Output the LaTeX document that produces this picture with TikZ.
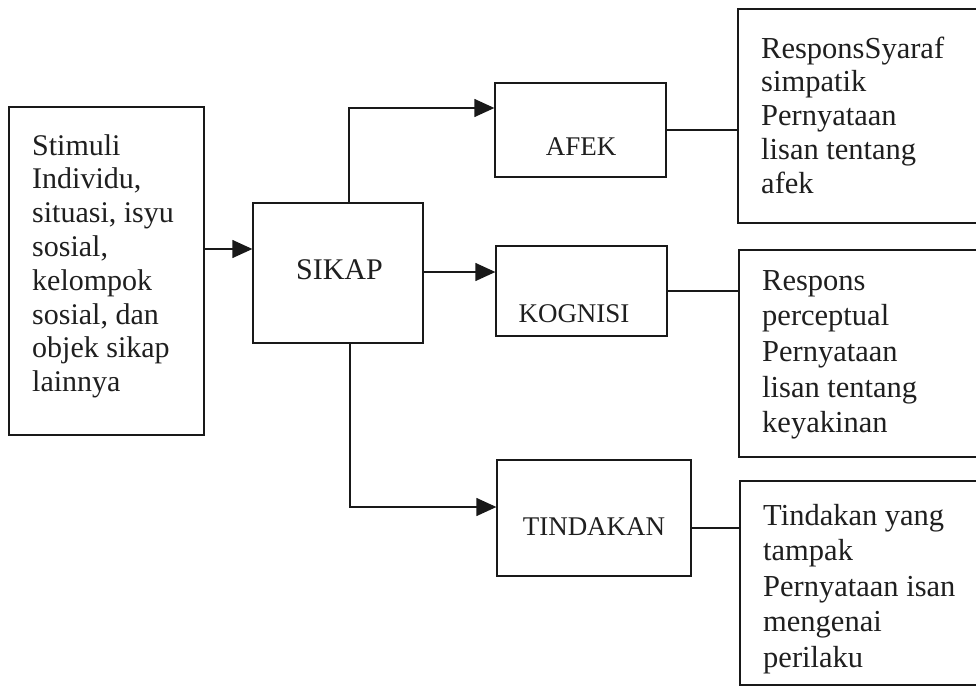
\documentclass[tikz,border=0pt]{standalone}
\usepackage{fontspec}
\setmainfont{Liberation Serif}
\usetikzlibrary{arrows.meta}
\begin{document}
\begin{tikzpicture}[x=1pt,y=-1pt,
  box/.style={draw=black!90, line width=1.3pt, inner sep=0pt},
  link/.style={draw=black!90, line width=1.3pt},
  arr/.style={link, -{Triangle[length=20pt,width=18pt]}},
  % multi-line text is placed by the baseline of its last line
  body/.style={inner sep=0pt, align=left, anchor=base west, text=black!88,
    font=\fontsize{30}{33.8}\selectfont},
  title/.style={inner sep=0pt, anchor=base, text=black!88,
    font=\fontsize{27}{30}\selectfont},
]
\useasboundingbox (0,0) rectangle (976,688);
\fill[white] (0,0) rectangle (976,688);
\clip (0,0) rectangle (976,688);

% boxes
\node[box, minimum width=195pt, minimum height=328pt] (stim) at (106.5,271) {};
\node[box, minimum width=170pt, minimum height=140pt] (sikap) at (338,273) {};
\node[box, minimum width=171pt, minimum height=94pt] (afek) at (580.5,130) {};
\node[box, minimum width=171pt, minimum height=90pt] (kog) at (581.5,291) {};
\node[box, minimum width=194pt, minimum height=116pt] (tind) at (594,518) {};
\node[box, minimum width=262pt, minimum height=214pt] (ra) at (869,116) {};
\node[box, minimum width=262pt, minimum height=207pt] (rb) at (870,353.5) {};
\node[box, minimum width=262pt, minimum height=204pt] (rc) at (871,583) {};

% texts
\node[body, font=\fontsize{30}{33.8}\selectfont] (stimtxt) at (32,391.6)
  {Stimuli\\Individu,\\situasi, isyu\\sosial,\\kelompok\\sosial, dan\\objek sikap\\lainnya};
\node[title, font=\fontsize{30}{32}\selectfont] (sikaptxt) at (339.5,279) {SIKAP};
\node[title] (afektxt) at (581,155) {AFEK};
\node[title] (kogtxt) at (574,322) {KOGNISI};
\node[title] (tindtxt) at (594,535) {TINDAKAN};
\node[body, font=\fontsize{30.5}{33.8}\selectfont] (ratxt) at (761,193.2)
  {ResponsSyaraf\\simpatik\\Pernyataan\\lisan tentang\\afek};
\node[body, font=\fontsize{30.5}{35.7}\selectfont] (rbtxt) at (762,432.8)
  {Respons\\perceptual\\Pernyataan\\lisan tentang\\keyakinan};
\node[body, font=\fontsize{30.5}{35.5}\selectfont] (rctxt) at (763,667)
  {Tindakan yang\\tampak\\Pernyataan isan\\mengenai\\perilaku};

% arrow entry points
\coordinate (sikin) at ([yshift=24pt]sikap.west);
\coordinate (afin) at ([yshift=22pt]afek.west);
\coordinate (kogin) at ([yshift=19pt]kog.west);
\coordinate (tindin) at ([yshift=11pt]tind.west);
\coordinate (tindout) at ([yshift=-10pt]tind.east);

% connectors
\draw[arr] (stim.east |- sikin) -- (sikin);
\draw[arr] ([xshift=11pt]sikap.north) |- (afin);
\draw[arr] (sikap.east |- kogin) -- (kogin);
\draw[arr] ([xshift=12pt]sikap.south) |- (tindin);
\draw[link] (afek.east) -- (afek.east -| ra.west);
\draw[link] (kog.east) -- (kog.east -| rb.west);
\draw[link] (tindout) -- (tindout -| rc.west);
\end{tikzpicture}
\end{document}
